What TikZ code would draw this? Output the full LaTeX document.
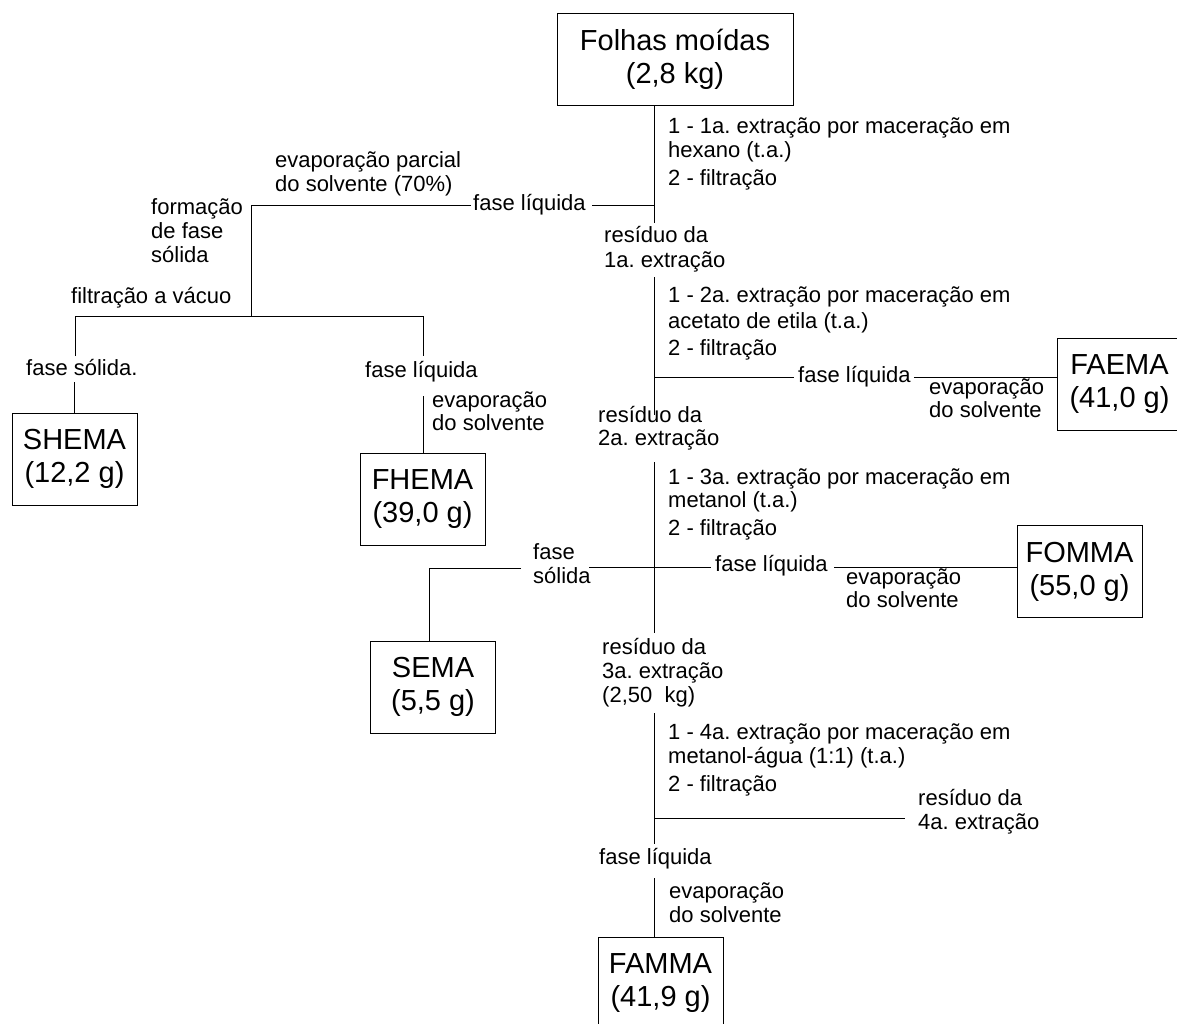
\documentclass[tikz,border=0pt]{standalone}
\usepackage{fontspec}
\setmainfont{Liberation Sans}
\frenchspacing
\begin{document}
\begin{tikzpicture}[x=1pt,y=-1pt,
  lbl/.style={anchor=west,inner sep=0pt,font=\fontsize{22}{24}\selectfont,text height=16pt,text depth=5pt},
  box/.style={draw,line width=1pt,inner sep=0pt,align=center,font=\fontsize{29}{33}\selectfont,
              minimum width=125pt,minimum height=92pt},
  wire/.style={line width=1pt}]
\clip (0,0) rectangle (1177,1023);

% boxes
\node[box,minimum width=236pt] (folhas) at (675,59) {Folhas moídas\\(2,8 kg)};
\node[box] (faema) at (1119.5,384) {FAEMA\\(41,0 g)};
\node[box] (shema) at (74.5,459) {SHEMA\\(12,2 g)};
\node[box] (fhema) at (422.5,499.5) {FHEMA\\(39,0 g)};
\node[box] (fomma) at (1079.5,571.5) {FOMMA\\(55,0 g)};
\node[box] (sema) at (433,687) {SEMA\\(5,5 g)};
\node[box] (famma) at (660.5,983.5) {FAMMA\\(41,9 g)};

% 1st extraction
\node[lbl] (s1a) at (668,128) {1 - 1a. extração por maceração em};
\node[lbl] (s1b) at (668,152) {hexano (t.a.)};
\node[lbl] (s1c) at (668,180) {2 - filtração};
\node[lbl] (liqA) at (473,205) {fase líquida};
\node[lbl] (r1a) at (604,237) {resíduo da};
\node[lbl] (r1b) at (604,262) {1a. extração};

% hexane phase work-up
\node[lbl] (evpA) at (275,162) {evaporação parcial};
\node[lbl] (evpB) at (275,186) {do solvente (70\%)};
\node[lbl] (forA) at (151,209) {formação};
\node[lbl] (forB) at (151,233) {de fase};
\node[lbl] (forC) at (151,257) {sólida};
\node[lbl] (filv) at (71,298) {filtração a vácuo};
\node[lbl] (solA) at (26,370) {fase sólida.};
\node[lbl] (liqC) at (365,372) {fase líquida};
\node[lbl] (evC1) at (432,402) {evaporação};
\node[lbl] (evC2) at (432,425) {do solvente};

% 2nd extraction
\node[lbl] (s2a) at (668,297) {1 - 2a. extração por maceração em};
\node[lbl] (s2b) at (668,323) {acetato de etila (t.a.)};
\node[lbl] (s2c) at (668,350) {2 - filtração};
\node[lbl] (liqB) at (798,377) {fase líquida};
\node[lbl] (evB1) at (929,389) {evaporação};
\node[lbl] (evB2) at (929,412) {do solvente};
\node[lbl] (r2a) at (598,417) {resíduo da};
\node[lbl] (r2b) at (598,440) {2a. extração};

% 3rd extraction
\node[lbl] (s3a) at (668,479) {1 - 3a. extração por maceração em};
\node[lbl] (s3b) at (668,502) {metanol (t.a.)};
\node[lbl] (s3c) at (668,530) {2 - filtração};
\node[lbl] (solB1) at (533,554) {fase};
\node[lbl] (solB2) at (533,578) {sólida};
\node[lbl] (liqD) at (715,566) {fase líquida};
\node[lbl] (evD1) at (846,579) {evaporação};
\node[lbl] (evD2) at (846,602) {do solvente};
\node[lbl] (r3a) at (602,649) {resíduo da};
\node[lbl] (r3b) at (602,673) {3a. extração};
\node[lbl] (r3c) at (602,697) {(2,50\ \ kg)};

% 4th extraction
\node[lbl] (s4a) at (668,734) {1 - 4a. extração por maceração em};
\node[lbl] (s4b) at (668,758) {metanol-água (1:1) (t.a.)};
\node[lbl] (s4c) at (668,786) {2 - filtração};
\node[lbl] (r4a) at (918,800) {resíduo da};
\node[lbl] (r4b) at (918,824) {4a. extração};
\node[lbl] (liqE) at (599,859) {fase líquida};
\node[lbl] (evE1) at (669,893) {evaporação};
\node[lbl] (evE2) at (669,917) {do solvente};

% junctions and free ends
\coordinate (e1) at (654,223);
\coordinate (j1) at (654,205);
\coordinate (c1) at (251,205);
\coordinate (j2) at (251,316);
\coordinate (h1) at (75,316);
\coordinate (h2) at (423,316);
\coordinate (k1) at (75,356);
\coordinate (k2) at (423,356);
\coordinate (k3) at (74,382);
\coordinate (k4) at (423,396);
\coordinate (t2) at (654,277);
\coordinate (b2) at (654,415);
\coordinate (j3) at (654,377);
\coordinate (t3) at (654,462);
\coordinate (b3) at (654,633);
\coordinate (x1) at (589,567);
\coordinate (x2) at (711,567);
\coordinate (x3) at (834,567);
\coordinate (w1) at (521,568);
\coordinate (w2) at (429,568);
\coordinate (t4) at (654,713);
\coordinate (b4) at (654,844);
\coordinate (j5) at (654,818);
\coordinate (e5) at (905,818);
\coordinate (t5) at (654,878);

% connectors
\draw[wire] (folhas.south -| e1) -- (e1);
\draw[wire] (j1) -- ([xshift=6pt]liqA.east);
\draw[wire] ([xshift=-2pt]liqA.west) -- (c1) -- (j2);
\draw[wire] (k1) -- (h1) -- (h2) -- (k2);
\draw[wire] (k3) -- (k3 |- shema.north);
\draw[wire] (k4) -- (k4 |- fhema.north);
\draw[wire] (t2) -- (b2);
\draw[wire] (j3) -- ([xshift=-4pt]liqB.west);
\draw[wire] ([xshift=3pt]liqB.east) -- (liqB.east -| faema.west);
\draw[wire] (t3) -- (b3);
\draw[wire] (x1) -- (x2);
\draw[wire] (x3) -- (x3 -| fomma.west);
\draw[wire] (w1) -- (w2) -- (w2 |- sema.north);
\draw[wire] (t4) -- (b4);
\draw[wire] (j5) -- (e5);
\draw[wire] (t5) -- (t5 |- famma.north);
\end{tikzpicture}
\end{document}
